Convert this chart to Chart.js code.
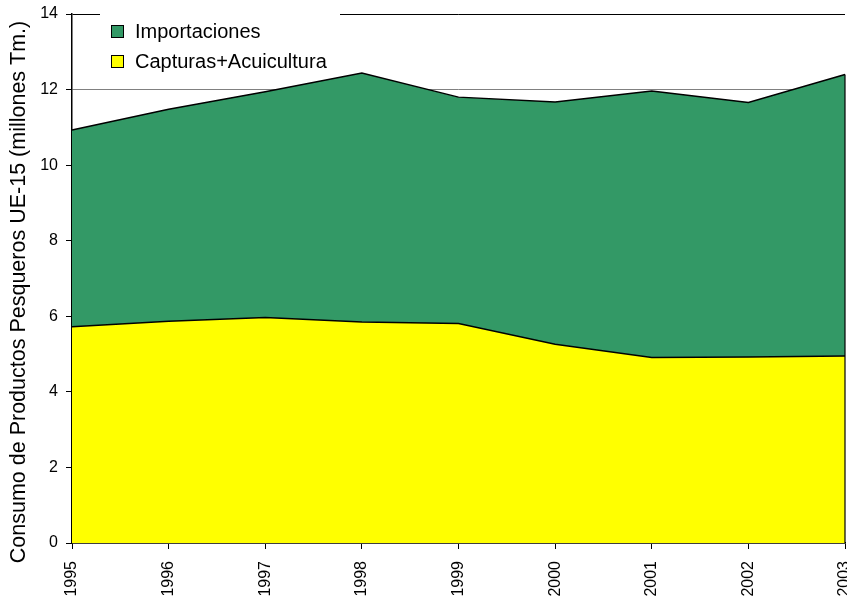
<!DOCTYPE html>
<html>
<head>
<meta charset="utf-8">
<script src="https://cdn.jsdelivr.net/npm/chart.js@4/dist/chart.umd.min.js"></script>
<style>
  html, body { margin: 0; padding: 0; background: #fff; }
  #wrap { width: 847px; height: 599px; position: relative; }
</style>
</head>
<body>
<div id="wrap"><canvas id="consumo"></canvas></div>
<script>
// years on the x axis
const years = ['1995', '1996', '1997', '1998', '1999', '2000', '2001', '2002', '2003'];
// millions of tonnes, stacked: catches + aquaculture at the bottom, imports on top
const capturas = [5.72, 5.87, 5.97, 5.85, 5.81, 5.26, 4.91, 4.92, 4.95];
const importaciones = [5.21, 5.61, 5.97, 6.59, 5.99, 6.41, 7.05, 6.74, 7.45];
const yTicks = [0, 2, 4, 6, 8, 10, 12, 14];
const yTitle = 'Consumo de Productos Pesqueros UE-15 (millones Tm.)';

const FONT = "'Liberation Sans', Arial, sans-serif";
const GREEN = '#339966';
const YELLOW = '#FFFF00';

// closes the stacked areas with a vertical edge on the last year
const rightEdge = {
  id: 'rightEdge',
  afterDatasetsDraw(chart) {
    const { ctx, scales: { x, y } } = chart;
    const last = years.length - 1;
    const px = x.getPixelForValue(last);
    ctx.save();
    ctx.strokeStyle = '#000';
    ctx.lineWidth = 1.2;
    ctx.beginPath();
    ctx.moveTo(px, y.getPixelForValue(0));
    ctx.lineTo(px, y.getPixelForValue(capturas[last] + importaciones[last]));
    ctx.stroke();
    ctx.restore();
  }
};

// legend inside the plot; its white box hides part of the top gridline.
// also draws the rotated y axis title, centred a bit below the plot centre
const boxLegend = {
  id: 'boxLegend',
  afterDraw(chart) {
    const { ctx } = chart;
    const items = [['Importaciones', GREEN], ['Capturas+Acuicultura', YELLOW]];
    ctx.save();
    ctx.fillStyle = '#fff';
    ctx.fillRect(100, 8, 240, 10);
    ctx.font = '20px ' + FONT;
    ctx.textBaseline = 'middle';
    items.forEach(([label, color], i) => {
      const cy = 31 + i * 30;
      ctx.fillStyle = color;
      ctx.fillRect(111, cy - 6, 12, 12);
      ctx.strokeStyle = '#000';
      ctx.lineWidth = 1;
      ctx.strokeRect(111.5, cy - 5.5, 12, 12);
      ctx.fillStyle = '#000';
      ctx.fillText(label, 135, cy + 1);
    });

    ctx.translate(19, 292);
    ctx.rotate(-Math.PI / 2);
    ctx.font = '21.5px ' + FONT;
    ctx.textAlign = 'center';
    ctx.fillText(yTitle, 0, 0);
    ctx.restore();
  }
};

new Chart(document.getElementById('consumo'), {
  type: 'line',
  data: {
    labels: years,
    datasets: [
      {
        label: 'Capturas+Acuicultura',
        data: capturas,
        backgroundColor: YELLOW,
        borderColor: '#000',
        borderWidth: 1.5,
        fill: 'origin',
        pointRadius: 0,
        tension: 0
      },
      {
        label: 'Importaciones',
        data: importaciones,
        backgroundColor: GREEN,
        borderColor: '#000',
        borderWidth: 1.5,
        fill: '-1',
        pointRadius: 0,
        tension: 0
      }
    ]
  },
  options: {
    responsive: true,
    maintainAspectRatio: false,
    animation: false,
    layout: { padding: { top: 14, right: 2, left: 0, bottom: 0 } },
    plugins: {
      legend: { display: false },
      tooltip: { enabled: false }
    },
    scales: {
      x: {
        offset: false,
        grid: { drawOnChartArea: false, drawTicks: true, tickLength: 6, tickColor: '#000' },
        border: { color: '#000', width: 1.5 },
        ticks: {
          color: '#000',
          font: { family: FONT, size: 16 },
          minRotation: 90,
          maxRotation: 90,
          autoSkip: false,
          padding: 12
        },
        afterFit(scale) {
          scale.height = 56;
          scale.paddingLeft = 0;
          scale.paddingRight = 0;
        }
      },
      y: {
        stacked: true,
        min: 0,
        max: 14,
        afterBuildTicks(scale) { scale.ticks = yTicks.map(v => ({ value: v })); },
        grid: {
          color: ctx => (ctx.tick && ctx.tick.value === 14 ? '#000' : '#808080'),
          tickLength: 6,
          tickColor: '#000'
        },
        border: { color: '#000', width: 1.5 },
        ticks: {
          color: '#000',
          font: { family: FONT, size: 16 },
          padding: 8
        },
        afterFit(scale) {
          scale.width = 72;
          scale.paddingTop = 0;
          scale.paddingBottom = 0;
        }
      }
    }
  },
  plugins: [rightEdge, boxLegend]
});
</script>
</body>
</html>
